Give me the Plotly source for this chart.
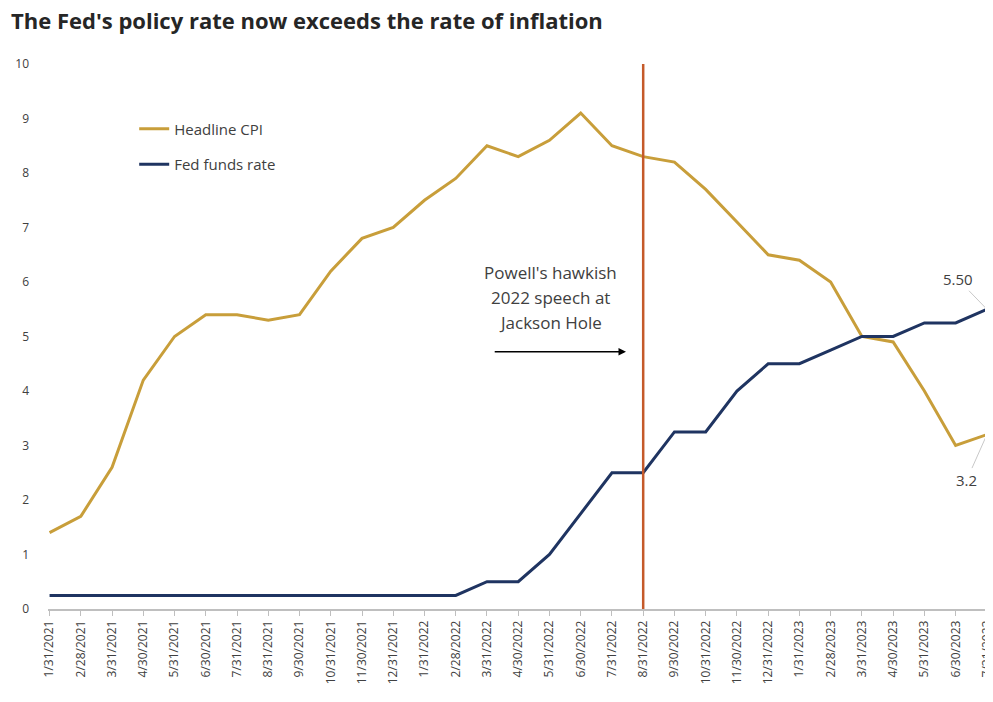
import plotly.graph_objects as go

dates = ["1/31/2021", "2/28/2021", "3/31/2021", "4/30/2021", "5/31/2021", "6/30/2021",
         "7/31/2021", "8/31/2021", "9/30/2021", "10/31/2021", "11/30/2021", "12/31/2021",
         "1/31/2022", "2/28/2022", "3/31/2022", "4/30/2022", "5/31/2022", "6/30/2022",
         "7/31/2022", "8/31/2022", "9/30/2022", "10/31/2022", "11/30/2022", "12/31/2022",
         "1/31/2023", "2/28/2023", "3/31/2023", "4/30/2023", "5/31/2023", "6/30/2023",
         "7/31/2023"]
cpi = [1.4, 1.7, 2.6, 4.2, 5.0, 5.4, 5.4, 5.3, 5.4, 6.2, 6.8, 7.0,
       7.5, 7.9, 8.5, 8.3, 8.6, 9.1, 8.5, 8.3, 8.2, 7.7, 7.1, 6.5,
       6.4, 6.0, 5.0, 4.9, 4.0, 3.0, 3.2]
fed = [0.25, 0.25, 0.25, 0.25, 0.25, 0.25, 0.25, 0.25, 0.25, 0.25, 0.25, 0.25,
       0.25, 0.25, 0.5, 0.5, 1.0, 1.75, 2.5, 2.5, 3.25, 3.25, 4.0, 4.5,
       4.5, 4.75, 5.0, 5.0, 5.25, 5.25, 5.5]
yticks = list(range(0, 11))
event_date = "8/31/2022"
event_text = ["Powell's hawkish", "2022 speech at", "Jackson Hole"]

CPI_COLOR = "#C89E3A"
FED_COLOR = "#1F3461"
FONT = "Open Sans"

x_idx = list(range(len(dates)))

fig = go.Figure()
fig.add_trace(go.Scatter(x=x_idx, y=cpi, mode="lines", name="Headline CPI",
                         legendgroup="a",
                         line=dict(color=CPI_COLOR, width=3)))
fig.add_trace(go.Scatter(x=x_idx, y=fed, mode="lines", name="Fed funds rate",
                         legendgroup="b",
                         line=dict(color=FED_COLOR, width=3)))

ev = dates.index(event_date)
fig.add_shape(type="line", x0=ev, x1=ev, y0=0, y1=10, xref="x", yref="y",
              line=dict(color="#C55A2A", width=2.5))

for i, line in enumerate(event_text):
    fig.add_annotation(x=16.02, y=6.18 - 0.46 * i, xref="x", yref="y",
                       text=line, showarrow=False,
                       font=dict(family=FONT, size=17, color="#404040"),
                       align="center")
fig.add_annotation(x=18.45, y=4.72, ax=14.2, ay=4.72, xref="x", yref="y",
                   axref="x", ayref="y", text="", showarrow=True,
                   arrowhead=2, arrowsize=1, arrowwidth=1.5, arrowcolor="#000000")

fig.add_annotation(x=x_idx[-1], y=fed[-1], xref="x", yref="y",
                   text=f"{fed[-1]:.2f}", showarrow=True, arrowhead=0,
                   arrowwidth=1, arrowcolor="#C8C8C8", ax=-29, ay=-30,
                   font=dict(family=FONT, size=15, color="#404040"))
fig.add_annotation(x=x_idx[-1], y=cpi[-1], xref="x", yref="y",
                   text=f"{cpi[-1]:.1f}", showarrow=True, arrowhead=0,
                   arrowwidth=1, arrowcolor="#C8C8C8", ax=-20, ay=45,
                   font=dict(family=FONT, size=15, color="#404040"))

fig.update_layout(
    width=993, height=702,
    paper_bgcolor="white", plot_bgcolor="white",
    margin=dict(l=40, r=11, t=56, b=101, autoexpand=False),
    title=dict(text="<b>The Fed's policy rate now exceeds the rate of inflation</b>",
               x=0.003, xanchor="left", y=0.981, yanchor="middle",
               font=dict(family=FONT, size=22, color="#262626")),
    legend=dict(x=0.0915, y=0.911, xanchor="left", yanchor="top",
                bgcolor="rgba(0,0,0,0)", font=dict(family=FONT, size=15, color="#404040"),
                tracegroupgap=13),
    showlegend=True,
    xaxis=dict(range=[-0.05, 30.1], tickmode="array", tickvals=x_idx, ticktext=dates,
               tickangle=-90, showgrid=False, zeroline=False, automargin=False,
               ticklabeloverflow="allow",
               showline=True, linecolor="#BFBFBF", linewidth=1.5,
               ticks="outside", ticklen=5, tickcolor="#BFBFBF",
               tickfont=dict(family=FONT, size=12, color="#404040")),
    yaxis=dict(range=[0, 10], tickvals=yticks, showgrid=False, zeroline=False,
               showline=False, ticks="", automargin=False, ticklabelstandoff=18,
               tickfont=dict(family=FONT, size=12, color="#404040")),
)

fig.write_html("out.html")
